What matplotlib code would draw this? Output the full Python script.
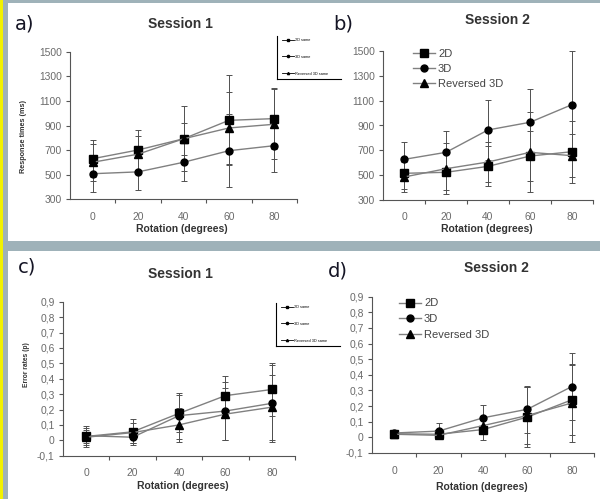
import numpy as np
import matplotlib
matplotlib.use('Agg')
import matplotlib.pyplot as plt
from matplotlib.patches import Rectangle
from matplotlib.lines import Line2D

plt.rcParams['font.family'] = ['Liberation Sans', 'DejaVu Sans']

rotation = ['0', '20', '40', '60', '80']
series = ['2D', '3D', 'Reversed 3D']
mini_labels = ['2D same', '3D same', 'Reversed 3D same']

# response times (ms)
rt1_2d = [630, 701, 792, 942, 956]
rt1_3d = [508, 523, 601, 695, 736]
rt1_rev = [601, 667, 792, 880, 910]
rt1_2d_err = [150, 162, 265, 365, 250]
rt1_3d_err = [150, 144, 155, 298, 215]
rt1_rev_err = [150, 144, 130, 290, 285]

rt2_2d = [515, 523, 571, 654, 689]
rt2_3d = [627, 684, 864, 926, 1068]
rt2_rev = [485, 552, 606, 684, 657]
rt2_2d_err = [130, 145, 160, 200, 250]
rt2_3d_err = [143, 174, 241, 268, 430]
rt2_rev_err = [120, 204, 165, 322, 175]

# error rates (p)
er1_2d = [0.025, 0.055, 0.175, 0.29, 0.33]
er1_3d = [0.03, 0.02, 0.16, 0.19, 0.24]
er1_rev = [0.02, 0.05, 0.10, 0.17, 0.215]
er1_2d_err = [0.07, 0.085, 0.12, 0.125, 0.175]
er1_3d_err = [0.05, 0.04, 0.15, 0.19, 0.25]
er1_rev_err = [0.05, 0.065, 0.11, 0.17, 0.21]

er2_2d = [0.023, 0.02, 0.05, 0.13, 0.24]
er2_3d = [0.028, 0.04, 0.125, 0.18, 0.325]
er2_rev = [0.02, 0.013, 0.075, 0.14, 0.22]
er2_2d_err = [0.02, 0.03, 0.07, 0.19, 0.225]
er2_3d_err = [0.02, 0.05, 0.08, 0.15, 0.215]
er2_rev_err = [0.02, 0.02, 0.05, 0.18, 0.25]

rt_ticks = [300, 500, 700, 900, 1100, 1300, 1500]
er_ticks = [-0.1, 0, 0.1, 0.2, 0.3, 0.4, 0.5, 0.6, 0.7, 0.8, 0.9]
er_ticklabels = ['-0,1', '0', '0,1', '0,2', '0,3', '0,4', '0,5', '0,6', '0,7', '0,8', '0,9']

W, H = 600, 499
fig = plt.figure(figsize=(6.0, 4.99), dpi=100, facecolor='#9fb2b9')


def fx(px):
    return px / W


def fy(py):
    return 1 - py / H


# background panels (below the axes)
fig.patches.append(Rectangle((0, 0), fx(3), 1, transform=fig.transFigure,
                             facecolor='#f2f200', edgecolor='none', zorder=-5))
fig.patches.append(Rectangle((fx(8), fy(241)), 1 - fx(8), fy(3.5) - fy(241),
                             transform=fig.transFigure, facecolor='white',
                             edgecolor='none', zorder=-5))
fig.patches.append(Rectangle((fx(8), 0), 1 - fx(8), fy(250.5),
                             transform=fig.transFigure, facecolor='white',
                             edgecolor='none', zorder=-5))

markers = ['s', 'o', '^']
msizes = [5.6, 5.0, 5.6]
x = np.arange(len(rotation))


def make_ax(left, top, right, bottom):
    return fig.add_axes([fx(left), fy(bottom), fx(right) - fx(left), fy(top) - fy(bottom)],
                        facecolor='none')


def draw(ax, ys, errs, ylim, yticks, yticklabels):
    for y, e, m, ms in zip(ys, errs, markers, msizes):
        ax.errorbar(x, y, yerr=e, fmt='none', ecolor='#505050', elinewidth=0.7,
                    capsize=2.2, capthick=0.7, zorder=2)
        ax.plot(x, y, color='#808080', lw=1.0, marker=m, ms=ms,
                mfc='black', mec='black', zorder=3)
    ax.set_xlim(-0.5, 4.5)
    ax.set_ylim(*ylim)
    ax.set_yticks(yticks)
    ax.set_yticklabels(yticklabels, fontsize=7.4, color='#6a6a6a')
    ax.set_xticks(x)
    ax.set_xticklabels(rotation, fontsize=7.4, color='#6a6a6a')
    ax.set_xticks([0.5, 1.5, 2.5, 3.5, 4.5], minor=True)
    ax.tick_params(axis='x', which='major', length=0, pad=9)
    ax.tick_params(axis='x', which='minor', length=3, width=0.8, color='#555555')
    ax.tick_params(axis='y', length=3, width=0.8, color='#555555', pad=3)
    for s in ['top', 'right']:
        ax.spines[s].set_visible(False)
    for s in ['left', 'bottom']:
        ax.spines[s].set_color('#555555')
        ax.spines[s].set_linewidth(0.8)


def mini_legend(ax, left, top, right, bottom):
    handles = [Line2D([], [], color='black', lw=0.6, marker=m, ms=1.6) for m in markers]
    ax.legend(handles, mini_labels, loc='upper left',
              bbox_to_anchor=(fx(left + 5), fy(top + 2)), bbox_transform=fig.transFigure,
              frameon=False, fontsize=2.8, handlelength=3.0, handletextpad=0.4,
              labelspacing=3.3, borderpad=0, borderaxespad=0)
    fig.add_artist(Line2D([fx(left), fx(left)], [fy(top), fy(bottom)],
                          transform=fig.transFigure, color='black', lw=0.8))
    fig.add_artist(Line2D([fx(left), fx(right)], [fy(bottom), fy(bottom)],
                          transform=fig.transFigure, color='black', lw=0.8))


def big_legend(ax, left, top, spacing):
    handles = [Line2D([], [], color='#808080', lw=1.0, marker=m, ms=ms,
                      mfc='black', mec='black') for m, ms in zip(markers, msizes)]
    leg = ax.legend(handles, series, loc='upper left',
                    bbox_to_anchor=(fx(left), fy(top)), bbox_transform=fig.transFigure,
                    frameon=False, fontsize=8, handlelength=2.0, handletextpad=0.25,
                    labelspacing=spacing, borderpad=0, borderaxespad=0)
    for t in leg.get_texts():
        t.set_color('#444444')


ax_a = make_ax(70, 51.7, 297, 199.3)
draw(ax_a, [rt1_2d, rt1_3d, rt1_rev], [rt1_2d_err, rt1_3d_err, rt1_rev_err],
     (300, 1500), rt_ticks, [str(t) for t in rt_ticks])
mini_legend(ax_a, 277, 36, 341, 79)

ax_b = make_ax(383, 51, 593, 200)
draw(ax_b, [rt2_2d, rt2_3d, rt2_rev], [rt2_2d_err, rt2_3d_err, rt2_rev_err],
     (300, 1500), rt_ticks, [str(t) for t in rt_ticks])
big_legend(ax_b, 413, 49, 0.45)

ax_c = make_ax(63, 301.7, 295, 455.7)
draw(ax_c, [er1_2d, er1_3d, er1_rev], [er1_2d_err, er1_3d_err, er1_rev_err],
     (-0.1, 0.9), er_ticks, er_ticklabels)
mini_legend(ax_c, 276, 303, 340, 346)

ax_d = make_ax(372, 296.7, 594, 453)
draw(ax_d, [er2_2d, er2_3d, er2_rev], [er2_2d_err, er2_3d_err, er2_rev_err],
     (-0.1, 0.9), er_ticks, er_ticklabels)
big_legend(ax_d, 399, 298.5, 0.5)

# titles, panel letters, axis labels
title_kw = dict(fontsize=10, fontweight='bold', color='#333333', ha='center', va='center')
fig.text(fx(180), fy(24), 'Session 1', **title_kw)
fig.text(fx(497), fy(20), 'Session 2', **title_kw)
fig.text(fx(180), fy(274), 'Session 1', **title_kw)
fig.text(fx(496), fy(268), 'Session 2', **title_kw)

letter_kw = dict(fontsize=14, color='#151525', ha='center', va='center', family='DejaVu Sans')
fig.text(fx(25), fy(24), 'a)', **letter_kw)
fig.text(fx(343), fy(24), 'b)', **letter_kw)
fig.text(fx(27), fy(267), 'c)', **letter_kw)
fig.text(fx(338), fy(271), 'd)', **letter_kw)

xl_kw = dict(fontsize=7.5, fontweight='bold', color='#333333', ha='center', va='center')
fig.text(fx(182), fy(229), 'Rotation (degrees)', **xl_kw)
fig.text(fx(487), fy(229), 'Rotation (degrees)', **xl_kw)
fig.text(fx(183), fy(486), 'Rotation (degrees)', **xl_kw)
fig.text(fx(482), fy(487), 'Rotation (degrees)', **xl_kw)

yl_kw = dict(fontweight='bold', color='#333333', ha='center', va='center', rotation=90)
fig.text(fx(24), fy(137), 'Response times (ms)', fontsize=5.2, **yl_kw)
fig.text(fx(27), fy(365), 'Error rates (p)', fontsize=4.8, **yl_kw)

fig.savefig('out.png', dpi=100, facecolor=fig.get_facecolor())
